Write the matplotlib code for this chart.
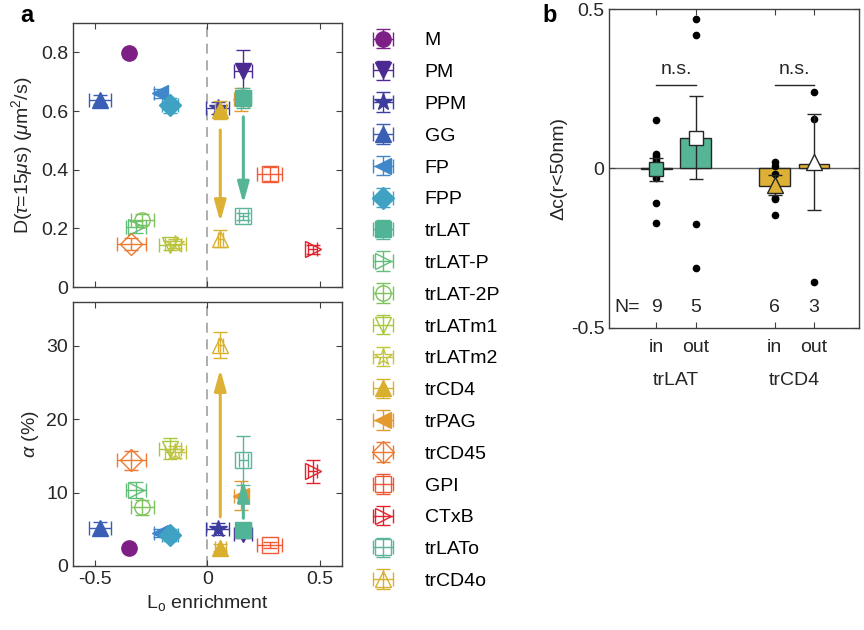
import numpy as np
import matplotlib
matplotlib.use("Agg")
import matplotlib.pyplot as plt

plt.rcParams['font.family'] = ['Liberation Sans', 'DejaVu Sans']
plt.rcParams['mathtext.fontset'] = 'custom'
plt.rcParams['mathtext.rm'] = 'Liberation Sans'
plt.rcParams['mathtext.it'] = 'Liberation Sans:italic'
plt.rcParams['font.size'] = 14

# ---------------- data: panel a ----------------
names = ['M', 'PM', 'PPM', 'GG', 'FP', 'FPP', 'trLAT', 'trLAT-P', 'trLAT-2P',
         'trLATm1', 'trLATm2', 'trCD4', 'trPAG', 'trCD45', 'GPI', 'CTxB',
         'trLATo', 'trCD4o']
colors = ['#7d1f85', '#4d2a91', '#3d3c9f', '#3a5eb6', '#3f87c9', '#3fa2c2',
          '#52b497', '#62be78', '#7dc25a', '#a9c73c', '#c4c440', '#d9b02e',
          '#e4992f', '#ee7a30', '#f05a36', '#e5212b', '#5bb59b', '#d9b02e']
markers = ['o', 'v', '*', '^', '<', 'D', 's', '>', 'o', 'v', '*', '^', '<',
           'D', 's', '>', 's', '^']
filled = [True, True, True, True, True, True, True, False, False, False,
          False, True, True, False, False, False, False, False]

lo_enr = [-0.35, 0.16, 0.045, -0.48, -0.21, -0.166, 0.16, -0.32, -0.29,
          -0.166, -0.143, 0.057, 0.15, -0.34, 0.278, 0.47, 0.16, 0.057]
lo_err = [0.01, 0.04, 0.05, 0.048, 0.03, 0.035, 0.035, 0.045, 0.05,
          0.05, 0.045, 0.025, 0.03, 0.065, 0.055, 0.02, 0.02, 0.01]
D_val = [0.798, 0.735, 0.61, 0.638, 0.66, 0.62, 0.644, 0.205, 0.23,
         0.142, 0.148, 0.604, 0.64, 0.146, 0.385, 0.128, 0.242, 0.165]
D_err = [0.005, 0.074, 0.02, 0.015, 0.015, 0.026, 0.035, 0.02, 0.02,
         0.015, 0.015, 0.03, 0.04, 0.02, 0.025, 0.015, 0.012, 0.03]
alpha_val = [2.5, 4.3, 5.0, 5.2, 4.5, 4.2, 4.9, 10.3, 8.0,
             16.0, 15.5, 2.5, 9.6, 14.4, 2.85, 12.9, 14.4, 30.1]
alpha_err = [0.2, 0.5, 0.8, 0.8, 0.5, 0.8, 0.6, 1.1, 1.0,
             1.4, 0.8, 0.5, 2.0, 1.3, 0.4, 1.6, 3.3, 1.8]

# ---------------- data: panel b ----------------
b_pos = [1, 2, 4, 5]
b_ticklabels = ['in', 'out', 'in', 'out']
b_groups = ['trLAT', 'trCD4']
b_colors = ['#56b497', '#56b497', '#dcb135', '#dcb135']
b_bar = [-0.003, 0.0965, -0.055, 0.013]
b_mean = [-0.003, 0.097, -0.052, 0.02]
b_err = [0.035, 0.13, 0.031, 0.151]
b_marker = ['s', 's', '^', '^']
b_mfc = ['#56b497', 'white', '#dcb135', 'white']
b_points = [[0.151, 0.044, 0.038, 0.031, 0.025, -0.003, -0.03, -0.107, -0.171],
            [0.469, 0.417, 0.086, -0.174, -0.313],
            [0.021, 0.007, -0.018, -0.091, -0.096, -0.145],
            [0.239, 0.154, -0.355]]
b_N = [9, 5, 6, 3]

fig = plt.figure(figsize=(8.64, 6.3), dpi=100)
ax1 = fig.add_axes([0.0845, 0.5444, 0.3113, 0.4191])
ax2 = fig.add_axes([0.0845, 0.1016, 0.3113, 0.4195])
ax3 = fig.add_axes([0.705, 0.4794, 0.2894, 0.5063])

frame_col = '#404040'

def style(ax):
    for s in ax.spines.values():
        s.set_color(frame_col)
        s.set_linewidth(1.0)
    ax.tick_params(direction='in', top=True, right=True, length=4,
                   color=frame_col, labelcolor='#262626', labelsize=14)

handles = []
for ax, yv, ye in [(ax1, D_val, D_err), (ax2, alpha_val, alpha_err)]:
    ax.axvline(0, color='#a0a0a0', ls=(0, (6, 4)), lw=1.2, zorder=0)
    for i in range(len(names)):
        z = 5 if names[i] in ('trLAT', 'trCD4') else 3
        h = ax.errorbar(lo_enr[i], yv[i], xerr=lo_err[i], yerr=ye[i],
                        fmt=markers[i], color=colors[i], ecolor=colors[i],
                        mfc=colors[i] if filled[i] else 'none',
                        mec=colors[i], ms=11 if markers[i] != '*' else 13,
                        mew=1.0, elinewidth=1.0, capsize=5, capthick=1.0,
                        label=names[i], zorder=z)
        if ax is ax1:
            handles.append(h)
    ax.set_xlim(-0.6, 0.6)
    ax.set_xticks([-0.5, 0, 0.5])
    style(ax)

# arrows
arr_kw = dict(arrowstyle='-|>,head_length=0.9,head_width=0.25', lw=2.2,
              shrinkA=0, shrinkB=0)
ax1.annotate('', xy=(0.057, 0.222), xytext=(0.057, 0.535),
             arrowprops=dict(color='#dcb135', **arr_kw), zorder=6)
ax1.annotate('', xy=(0.16, 0.285), xytext=(0.16, 0.58),
             arrowprops=dict(color='#56b497', **arr_kw), zorder=6)
ax2.annotate('', xy=(0.057, 26.8), xytext=(0.057, 6.7),
             arrowprops=dict(color='#dcb135', **arr_kw), zorder=6)
ax2.annotate('', xy=(0.16, 11.7), xytext=(0.16, 6.5),
             arrowprops=dict(color='#56b497', **arr_kw), zorder=6)

ax1.set_ylim(0, 0.9)
ax1.set_yticks([0, 0.2, 0.4, 0.6, 0.8])
ax1.set_yticklabels(['0', '0.2', '0.4', '0.6', '0.8'])
ax1.set_xticklabels([])
ax1.set_ylabel(r'D($\tau$=15$\mu$s) ($\mu$m$^2$/s)', fontsize=14, color='#262626')

ax2.set_ylim(0, 36)
ax2.set_yticks([0, 10, 20, 30])
ax2.set_xticklabels(['-0.5', '0', '0.5'])
ax2.set_ylabel(r'$\alpha$ (%)', fontsize=14, color='#262626')
ax2.set_xlabel(r'L$_\mathrm{o}$ enrichment', fontsize=14, color='#262626')

fig.legend(handles=handles, labels=names, loc='upper left',
           bbox_to_anchor=(0.405, 0.962), frameon=False, fontsize=14,
           labelspacing=0.73, handlelength=2.6, handletextpad=0.85,
           borderaxespad=0)

# ---------------- panel b ----------------
ax3.axhline(0, color='#606060', lw=1.0, zorder=1)
for i, x in enumerate(b_pos):
    ax3.bar(x, b_bar[i], width=0.78, color=b_colors[i], edgecolor='#262626',
            lw=1.0, zorder=2)
    ax3.plot([x] * len(b_points[i]), b_points[i], 'o', color='black', ms=4.5,
             zorder=3)
    ax3.errorbar(x, b_mean[i], yerr=b_err[i], fmt='none', ecolor='#262626',
                 elinewidth=1.0, capsize=5, capthick=1.0, zorder=4)
    ax3.plot(x, b_mean[i], b_marker[i], mfc=b_mfc[i], mec='#262626', mew=1.0,
             ms=10 if b_marker[i] == 's' else 12, zorder=5)
    ax3.text(x, -0.436, str(b_N[i]), ha='center', va='center', fontsize=14,
             color='#262626')
ax3.text(0.27, -0.436, 'N=', ha='center', va='center', fontsize=14,
         color='#262626')
for g, (xa, xb) in enumerate([(1, 2), (4, 5)]):
    ax3.plot([xa, xb], [0.261, 0.261], color='#262626', lw=1.0)
    ax3.text((xa + xb) / 2, 0.31, 'n.s.', ha='center', va='center',
             fontsize=14, color='#262626')
    ax3.text((xa + xb) / 2, -0.665, b_groups[g], ha='center', va='center',
             fontsize=14, color='#262626', clip_on=False)
ax3.set_xlim(-0.2, 6.15)
ax3.set_ylim(-0.5, 0.5)
ax3.set_xticks(b_pos)
ax3.set_xticklabels(b_ticklabels)
ax3.set_yticks([-0.5, 0, 0.5])
ax3.set_yticklabels(['-0.5', '0', '0.5'])
ax3.set_ylabel('Δc(r<50nm)', fontsize=14, color='#262626', labelpad=2)
style(ax3)
ax3.tick_params(axis='x', pad=8)

fig.text(0.023, 0.975, 'a', fontsize=17, fontweight='bold', va='center', ha='left')
fig.text(0.628, 0.975, 'b', fontsize=17, fontweight='bold', va='center', ha='left')

fig.savefig('out.png', dpi=100)
